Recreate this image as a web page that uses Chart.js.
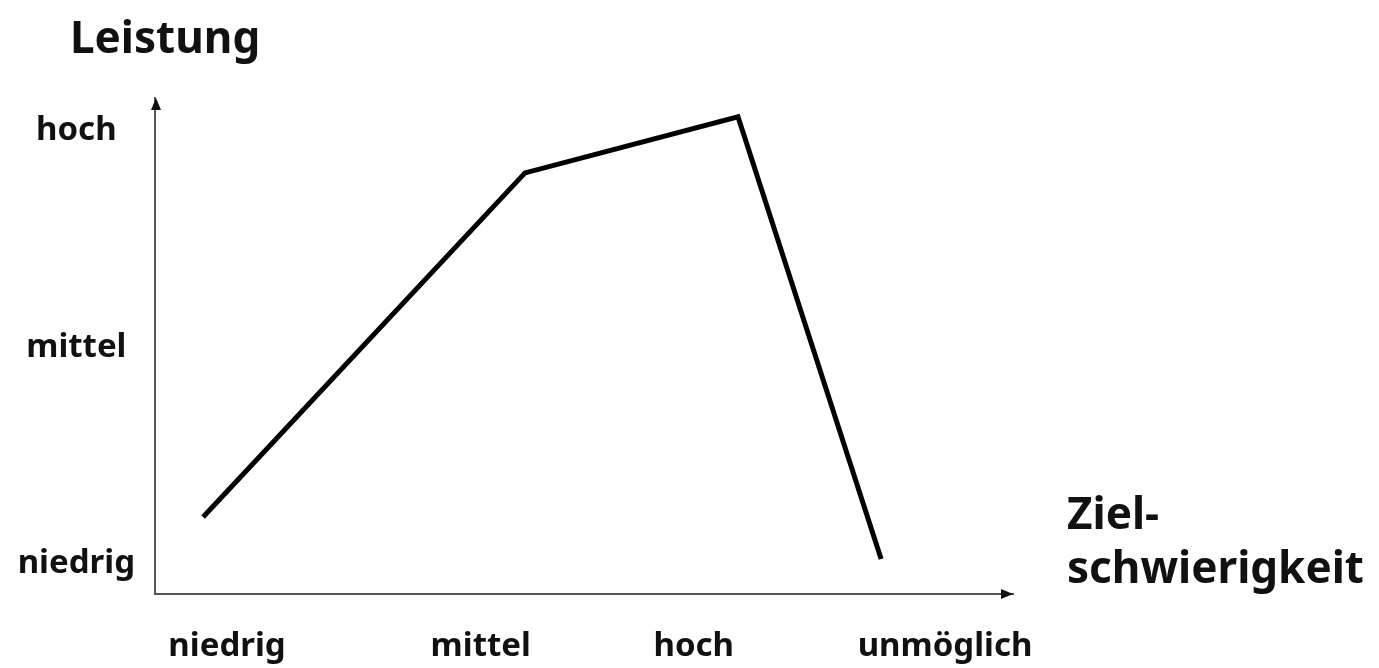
<!DOCTYPE html>
<html>
<head>
<meta charset="utf-8">
<title>Leistung und Zielschwierigkeit</title>
<script src="https://cdn.jsdelivr.net/npm/chart.js@4.4.1/dist/chart.umd.min.js"></script>
<style>
  html, body { margin: 0; padding: 0; background: #fff; }
  #wrap { width: 1379px; height: 668px; }
</style>
</head>
<body>
<div id="wrap">
  <canvas id="myChart" width="1379" height="668"></canvas>
</div>
<script>
// categories along both axes
const difficultyLabels = ['niedrig', 'mittel', 'hoch', 'unmöglich']
const difficultyTicks = [1, 2.06, 2.95, 4]
const performanceLabels = ['niedrig', 'mittel', 'hoch']
const performanceTicks = [1, 2, 3]

// the curve
const difficulty = [0.90, 2.245, 3.135, 3.733]
const performance = [1.217, 2.806, 3.065, 1.023]

const yTitle = 'Leistung'
const xTitle = ['Ziel-', 'schwierigkeit']

const axisColor = '#555'
const fontFamily = "'Noto Sans', 'DejaVu Sans', sans-serif"

Chart.defaults.font.family = fontFamily
Chart.defaults.font.weight = 'bold'
Chart.defaults.color = '#111'

const arrowsAndTitles = {
  id: 'arrowsAndTitles',
  afterDraw(chart) {
    const ctx = chart.ctx
    const area = chart.chartArea
    ctx.save()
    ctx.fillStyle = '#111'
    // arrow heads
    ctx.beginPath()
    ctx.moveTo(area.left + 1, area.top)
    ctx.lineTo(area.left - 4, area.top + 12)
    ctx.lineTo(area.left + 6, area.top + 12)
    ctx.closePath()
    ctx.fill()
    ctx.beginPath()
    ctx.moveTo(area.right, area.bottom)
    ctx.lineTo(area.right - 12, area.bottom - 5)
    ctx.lineTo(area.right - 12, area.bottom + 5)
    ctx.closePath()
    ctx.fill()
    // axis titles
    ctx.font = 'bold 44px ' + fontFamily
    ctx.textAlign = 'left'
    ctx.textBaseline = 'alphabetic'
    ctx.fillText(yTitle, 70, 53)
    ctx.fillText(xTitle[0], 1067, 529)
    ctx.fillText(xTitle[1], 1067, 583)
    ctx.restore()
  }
}

const ctx = document.getElementById('myChart')
new Chart(ctx, {
  type: 'line',
  data: {
    datasets: [
      {
        data: difficulty.map((x, i) => ({ x: x, y: performance[i] })),
        borderColor: '#000',
        borderWidth: 5,
        pointRadius: 0,
        tension: 0,
        fill: false
      }
    ]
  },
  options: {
    responsive: false,
    animation: false,
    events: [],
    layout: {
      padding: { left: 0, right: 366, top: 98, bottom: 0 }
    },
    plugins: {
      legend: { display: false },
      tooltip: { enabled: false }
    },
    scales: {
      x: {
        type: 'linear',
        min: 0.699,
        max: 4.284,
        grid: { display: false, drawTicks: false },
        border: { display: true, color: axisColor, width: 2 },
        afterBuildTicks: scale => {
          scale.ticks = difficultyTicks.map(v => ({ value: v }))
        },
        afterFit: scale => { scale.height = 74 },
        ticks: {
          autoSkip: false,
          maxRotation: 0,
          padding: 33,
          font: { size: 33, weight: 'bold' },
          callback: (value, index) => difficultyLabels[index]
        }
      },
      y: {
        type: 'linear',
        min: 0.861,
        max: 3.152,
        grid: { display: false, drawTicks: false },
        border: { display: true, color: axisColor, width: 2 },
        afterBuildTicks: scale => {
          scale.ticks = performanceTicks.map(v => ({ value: v }))
        },
        afterFit: scale => { scale.width = 155 },
        ticks: {
          autoSkip: false,
          crossAlign: 'center',
          padding: 20,
          font: { size: 33, weight: 'bold' },
          callback: (value, index) => performanceLabels[index]
        }
      }
    }
  },
  plugins: [arrowsAndTitles]
})
</script>
</body>
</html>
